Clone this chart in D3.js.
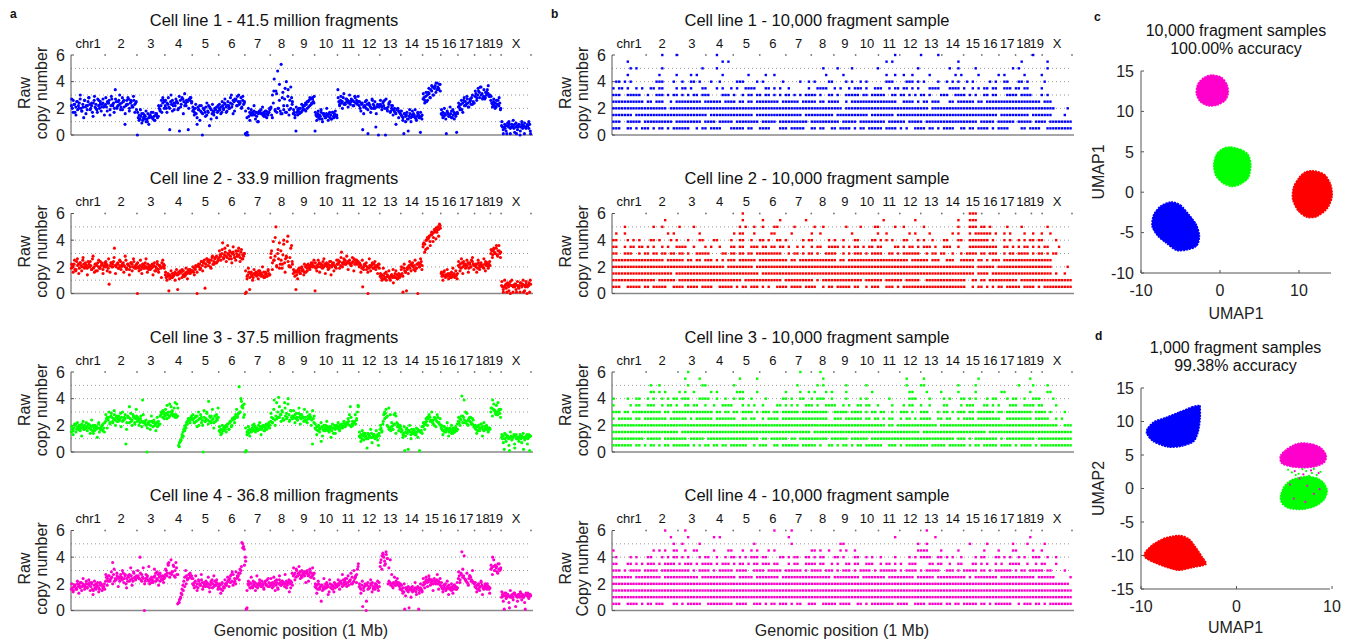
<!DOCTYPE html>
<html>
<head>
<meta charset="utf-8">
<script src="https://cdn.jsdelivr.net/npm/d3@7"></script>
<style>
body { margin: 0; background: #fff; }
svg { font-family: "Liberation Sans", Arial, Helvetica, sans-serif; }
</style>
</head>
<body>
<svg width="1357" height="642"></svg>
<script>
// mouse chromosomes (Mb)
var chromNames = ["chr1","2","3","4","5","6","7","8","9","10","11","12","13","14","15","16","17","18","19","X"];
var chromSizes = [195.5,182.1,160.0,156.5,151.8,149.7,145.4,129.4,124.6,130.7,122.1,120.1,120.4,124.9,104.0,98.2,95.3,90.7,61.4,171.0];

var lineColors = ["#0000ff", "#ff0000", "#00ff00", "#ff00cc"];
var fullTitles = ["Cell line 1 - 41.5 million fragments", "Cell line 2 - 33.9 million fragments",
                  "Cell line 3 - 37.5 million fragments", "Cell line 4 - 36.8 million fragments"];
var sampleTitles = ["Cell line 1 - 10,000 fragment sample", "Cell line 2 - 10,000 fragment sample",
                    "Cell line 3 - 10,000 fragment sample", "Cell line 4 - 10,000 fragment sample"];
var yTicks = [0, 2, 4, 6];
var gridLevels = [1, 2, 3, 4, 5];

// raw copy number per bin, one char per bin: "0"=0.0 ... "a"=1.0 ... "k"=2.0 ... "u"=3.0 ... "E"=4.0 ... "O"=5.0
// two interleaved bin sets per cell line, one string per chromosome
var valueCode = "0123456789abcdefghijklmnopqrstuvwxyzABCDEFGHIJKLMNOPQRSTUVWXYZ";
var fullLine1 = ["mkqnhlpjmorkindqlmjpsnkmhoqlnjrmkpinolm","nlpoqjmrnokyplmqnjospl8mqnrkopmlqnoj",
  "0dfcegbdfeacgdfehdcebfgdekimhoqp","mkonl4pnqmjorpok3qnsrpmoqp4rqsp","ijhkg8ljmih0kjhlfim7kjgihkjlhi",
  "kjlhmkonlipmkoungprqmtpnoslqnp","1020ehgfhgifheagihjgfhgeigfhj","kfuoGjxhMkqiRgwjrhEmyfqksp",
  "ghf3hjigkhilmjonkpqmrospt","3fegdfehcgfedgfegdfchegfed","ypnqopsnorpqopnrqmptoqnp",
  "mkon4lmpkn1omlkqnmk6ln0m","nmlomq0kjlnpikmjih8jkihg","fed1gefc3egdfegfdcehfd2ef",
  "rsqtpuwvsyxAuzBDyAzCx","gfhegf1hgfegidfhge2g","lmknjoqmpnrolpqsnpo","tvsuxwAuvstrwuyvtu",
  "qonpmolnqmok","7616571768166758617670685716677581"];
var fullLine1b = ["rhnfpkuilqgmsjoetkhqnlrf","sioftmhrkpuljqgnsiqlthp","hbj9gcia8fdhbgemjqsk",
  "qhskuiompjtlrgvmqkso","lfndjbmgkeohlcnfjdm","ngpjrhmkslqirmupkto","idkbjfmchaigleidhk",
  "ldxivkCgsmzhtjAn","jdlfkhnjmiplsnro","hbicjagdkbhchdif","smtkvnrlupqmsot","pioglqjnhrkpgml",
  "qjpkriohmfkgjdi","ibgahcjaiejbgdhc","vowqzsBuAwDyC","jdkcieldjcgh","ojqhsmtlrnuo","xqzsAryswBt",
  "tlrkqnsj","a4839a58b29483a7958a3"];
var fullLine2 = ["jlkmiholmjnlkpmknljomkliqjkmhlnkjolmikn","kmlj7lnkmoylkmnjlokmnlkpjmliknmkojlm",
  "0kjlikmjlnkjmilkjmklhkjmilkjnkml","ecdf2edcfdegfe3gfhgiedfegfhgigh","hgjik0lkmjolnp4mqopnkprmoqnsop",
  "rtsuCqtvsrutwsquvtrpuswtrvqtsu","01deg3fdecfegdfhegfedgcefdhfe","rwnDpsOkuqCmpjtEnqsDolrkAm",
  "fhg3egihfjhiegklhmjlkmnlk","2jlkmnkmlokmlnkmjlokmnlkjm","mnolvnmopmnonpmlnoqmnpom",
  "kmlj5kmlnk0jlklnjmkilkmj","dcebdfcaedcbdec8dfcebdce","if1jhg2ikljmlnklhjm0nkmol",
  "zCBxEGFHDIKJGMLNKOMQN","fdegdcedfedcgedfcdef","lkmjnkolmklnjmkpoml","lkmjnlkmlkjmolnkml",
  "uwtxvuytwAuv","6515671657066165716561857165706617"];
var fullLine2b = ["mgpiqfnhrjlekoisgmhpjnfl","ohqgnkrfmjpilgsimenhqkj","nhpfmjqgkilenhoglcpj",
  "gadbhcfaiebgchdjbifh","kelgmiohnkqlpjsmrnq","wpxryoAqvnzrwsyoxqu","hbjcgaiefbhdkcgdie",
  "uipGlxjwmBgrHkyo","idhbjfkhmgjlinkp","nhpgmjqflioemhkp","pjrkqmsinlrhpmo","ngpiligqhmjokfm",
  "fajbgdhaeichbfd","kdmgjfohlipjmkqi","BvEyGAIDKFMHP","gaheibfcjdhb","ohqfmjpgnkri","mgpinkqhljo",
  "xryuAswr","93a4829a5739486a2958a"];
var fullLine3 = ["fhgiklhjikgiljhkimjlikhjgeikhjilfhjkgim","npqoumrqnpsoqnprotqnoqp6mrqypnosqmpr",
  "npomrnDmnlk0mlnkrnmoklmjnlrstqus","rtzsqAustrxqsAr5789dfhjkmnpomqp","opmqnrokpsmo0qnpuoCnqropmrnsoq",
  "gfhegijhkjlhmnjpoqpswrtNuEyzqs","01fgehgfihgjhigkhjhikjgilkjmk","nqmpDorpuFqsnvpoBrtqEsovqp",
  "rqspqotqsprqnoqomrpsqo6pr","ihjgkhi8jhgikhjifhjgiekhji","jhkilkjmlkmlnsyjlkmnlpuy",
  "cbdacedbc3adcbebcdacbd5c","higlsutqkjhigjhkstrmlkij","fgde1fhe2gfdhfegedfhg1fge",
  "jkmlnqpsqonmlkponqmlk","ihgjfhgihfghegihfjgh","nmpoGrqomnlkpnqmlok","ihjgkhiljhgjikhgih",
  "uxDwvtsuBvtw","bac2adbca1bcabd3cababdacb2bacdab1c"];
var fullLine3b = ["jdlfmhkcnhigleokgjbmihlf","siqltmvkrnpjuoshqmtkrlw","qkpjsmoilhnjmgqkluvp",
  "wpuryvsBqx49bcgilpor","smrjupqkvntlrmwirpx","jdkgiflhnkpmrqtuCxA","idjcgklfihmdjgkhli",
  "tmwkBqysuoxpAnvr","vmtoxlsqwnuprkvm","ldjfmckgngjbliek","mgkinjlpkqnmsoz","f8g9eaebh7dcg9e",
  "kfnpwrxsmhlejgk","hbjcigkaehdibgfj","mhpkrnuoqjsmp","kdjfmcikeghl","qkrmDutoqlpj","kejglcmhjfi",
  "xrAvzswq","d7e8c5f9b6da8c7e9b6dc"];
var fullLine4 = ["ghfijhgkijhlikjgimhkjlikgfjhkilhgjkfhig","mpomqnopArmonqpomrpnsoqkomprnqomspnq",
  "pqoEnrpo0mopnmkolnmpqsonrpmqonlp","ruszApsrtyquAr5689dgjmpuqnorpqo","kjlmikhmkjnlikjmlikhjlnkimjlki",
  "hjgkfihkjlmnoqrtjlmkopqnsuPLMy","E12kjlhkimjlikhjlkimjhlkjnilk","kjlikmjlhknljmklikmjlnkhlj",
  "qrspuqsrtqpsrqtsuqrtpsqrs","ihjgkhi7jhgikhjiekhjgilhji","kjlmkinlmkoljmnkplmoqlvz",
  "ihgj3hik0jgihkjlhigkjhfi","xCFHEBzGDkmljkilkjmlkjik","gfhe1hgfi2ghfegfhegi1fhge",
  "jlkmnlmonlkmkomlnkmlj","ihgjhkgihjghfigjhigh","oqnsIpqonmlkoqpnmlk","ihjgkhiljhgijhkigh",
  "vwExuywtzvuw","acb1bdacb2abcadc3bacbadbcab1cbdacb"];
var fullLine4b = ["kejgmdlfoikhnflcmgjeljhk","rjqmtkvnsipoulrhqmwjtop","uosmwkrqxnplvmtjsnqo",
  "vqysCtxpwr6acfikorsq","ohqfnjrglikpemhqjng","kdlhnjpilmrotqsvxOK","Bfmhphlfqjnikgmjoi",
  "ohpfngqjmkrhlems","wnvqxourtlsmvpwo","kdmgjfohlcnhjeki","nglrjoiqmskuprx","kdmfj7lhnegkiml",
  "AvGyIDwCrhpjolg","jdkbhegaiflchdkf","ohpiqjnfmkrgo","lejfmchkdjgl","tlrvFnsjqmul","lejfmchkgid",
  "yrCuxszv","e7d9c6fa8db7ce8a6db9c"];
var fullProfiles = [[fullLine1, fullLine1b], [fullLine2, fullLine2b], [fullLine3, fullLine3b], [fullLine4, fullLine4b]];

// 10,000 fragment samples: copy number comes in steps of 0.5.
// Each row is one level; each hex digit is one of 40 genome windows, its 4 bits = which quarter-windows hold a point.
var sampleLevels = [6.0, 5.5, 5.0, 4.5, 4.0, 3.5, 3.0, 2.5, 2.0, 1.5, 1.0, 0.5];
var sampleLine1 = [
  "0000420008 0000000000 0000201040 0000002000",
  "0400000002 8000000000 0001400000 8000020100",
  "0280400108 0000000042 1008002004 8200140100",
  "0400821402 0104800020 8001248201 4102810400",
  "6a01c49a24 1c28104a18 5281c3a84a 9414c68200",
  "b4a6c2d18a 53c6a409e5 2e9cb6a3c7 a56ced8400",
  "e7c9d6adc3 a5b6ad5e9a 7dbe6d5a39 ea6c7bc500",
  "ffedcbfefd edbfdfbede 5fffe7adc6 fdbffffb80",
  "ffffefffff ffffffffff 7ffffffdff ffffffffc2",
  "feffffffbf ffbfffdffb ffbfdfffff fffdffbf84",
  "e7dffbfef7 dfefbff7fe fbfefdf7ff fefbf7deff",
  "e6bad7e5bc 7d9e3be6cd eb7dea7b5e 6debc379ff"];
var sampleLine2 = [
  "0000000000 0400000000 0000000000 0e00000000",
  "0000200000 0408201000 0002004000 8e00000000",
  "0802410800 0a48c10240 4218240800 8ed0420100",
  "4800140200 2c41820480 1009014202 8bf4a12480",
  "c5468a2318 4c9a682c14 8c35462918 cfe8a56c20",
  "cb6a53c8a4 6cedb4a59e ad6c35ae9c 8ffcd5ab10",
  "ce5b6da7c3 6dbfe5ad3c aebcd7e5b2 5edcb7ad60",
  "ffffdfb6ea efdffb7ffd bffffefdce 7daeffff80",
  "fffffffffe ffbfffffff ffffffffff fdfbffff82",
  "fffffbffff ffefffffff ffffffffff fdefffffa4",
  "fffefdffff fbffeffd7f fefdfbe7ff e6dffbffff",
  "e7dbe7bde7 d6ea7bde5b ecb9d7ffff e5ab7debff"];
var sampleLine3 = [
  "0000002000 0000004080 0000000000 0000000000",
  "0000004200 0820000040 0000020800 0100004000",
  "0004802180 2000008140 4080021800 8200042100",
  "0006a14828 1c20084a28 4020018420 8201804180",
  "84ca56e3c9 2c841a65c8 428081c214 6a2c593840",
  "82ce5a6c93 c5486a9d3c a6c8459218 5c6a39ec20",
  "edffb7ffed b7aedfbfe7 deb64e9c5a edfb7fde84",
  "bedfefd7ef e6cbdfffe7 7edacb5e6c bdfe7fdf28",
  "ffffffffff ffffffffff fffedfffbf ffffffffe7",
  "fffffeffff fffffffbff ffffffefff ffdfffffff",
  "ffefbfdf7f ffedfb7fef dfbffffffe ebfd7fefff",
  "fed6b7eadb 7e5cdfbe9a d6fcebfdf7 eb7debd7ff"];
var sampleLine4 = [
  "0000204000 0000820000 0000000400 0000000000",
  "0000082014 0000040000 0000200080 0000004000",
  "0000048200 0040020001 8000002400 0820108200",
  "8002a64c10 c4a2800691 4800003c20 8042182400",
  "428c56a2c9 6aec359ac6 8ca4215e6a 42c6a53920",
  "c6aebd75eb ad6ec59eca 6ce5a9c364 c6a53c9620",
  "ebdf7febd7 de7befd7ba ebd7ebd7ce bed7eb7d84",
  "feffbffdff efbfdffff7 fdfeffbf7f ebfdffefc1",
  "ffffffffff ffffffffff ffffffffff fffffffffe",
  "ffffffffff ffffffffff ffffffffff ffffffffff",
  "ffffffffff ffffffffff ffffffffff ffffffffff",
  "e7adc6be7f de75bace7d e6bfde7bed bed7e5daff"];
var sampleRows = [sampleLine1, sampleLine2, sampleLine3, sampleLine4];

// UMAP cluster outlines [x, y]
var umapTenK = [
  [[-1.0,14.5],[0.2,14.2],[0.9,13.3],[1.05,12.3],[0.7,11.4],[-0.3,10.8],[-1.5,10.7],[-2.5,11.2],[-3.0,12.2],[-2.8,13.4],[-2.0,14.2]],
  [[1.2,5.6],[2.6,5.3],[3.6,4.6],[3.9,3.3],[3.6,1.8],[2.6,1.0],[1.5,0.7],[0.4,1.1],[-0.5,2.0],[-0.8,3.3],[-0.5,4.6],[0.2,5.3]],
  [[11.8,2.65],[13.2,2.2],[14.0,1.0],[14.2,-0.5],[13.6,-2.0],[12.3,-3.0],[11.0,-3.1],[9.9,-2.3],[9.2,-0.9],[9.3,0.6],[10.0,1.8],[10.8,2.5]],
  [[-6.2,-1.2],[-5.0,-1.6],[-3.9,-2.8],[-3.0,-4.0],[-2.6,-5.4],[-2.9,-6.6],[-4.0,-7.1],[-5.5,-7.2],[-6.8,-6.3],[-7.9,-5.4],[-8.6,-4.2],[-8.4,-2.8],[-7.5,-1.7]]];
var umapTenKColors = ["#ff00cc", "#00ff00", "#ff0000", "#0000ff"];

var umapOneK = [
  [[-3.9,12.4],[-4.6,12.2],[-6.0,11.4],[-7.4,10.6],[-8.6,10.0],[-9.3,9.0],[-9.4,8.2],[-8.7,7.0],[-7.2,6.2],[-5.8,6.3],[-4.5,7.0],[-4.0,8.5],[-3.8,10.5],[-3.8,12.2]],
  [[-6.0,-7.0],[-7.5,-7.4],[-8.8,-8.4],[-9.6,-9.6],[-9.5,-10.4],[-8.2,-11.3],[-6.8,-12.0],[-5.9,-12.2],[-4.6,-11.8],[-3.2,-11.3],[-3.6,-10.2],[-4.3,-8.7],[-5.0,-7.5]],
  [[7.2,1.8],[8.3,1.6],[9.1,0.9],[9.5,-0.3],[9.2,-1.6],[8.3,-2.6],[7.0,-3.1],[5.6,-3.0],[4.8,-2.3],[4.6,-1.2],[5.0,0.3],[5.8,1.3]],
  [[6.8,6.8],[8.0,6.6],[8.9,6.0],[9.4,4.9],[9.2,3.9],[8.3,3.3],[7.0,3.1],[5.6,3.3],[4.7,3.8],[4.6,4.9],[5.2,5.8],[6.0,6.5]]];
var umapOneKColors = ["#0000ff", "#ff0000", "#00ff00", "#ff00cc"];
var strayGreen = [[5.8,2.4],[6.5,2.2],[7.3,2.6],[7.9,2.3],[8.4,2.0],[6.9,2.9],[7.6,1.9],[8.8,2.5],[6.2,2.0],[5.4,2.8],[8.1,2.9]];
var strayPink = [[6.1,2.6],[7.0,2.1],[7.8,2.7],[8.6,2.3],[6.6,1.5],[7.4,0.4],[8.1,-0.8],[6.0,-1.5],[7.2,-2.0],[5.6,0.6],[8.7,-0.1]];

var svg = d3.select("svg");
var starts = [0];
chromSizes.forEach(function (s, i) { starts.push(starts[i] + s); });
var total = starts[starts.length - 1];
var rowTop = [0, 158.5, 317, 475.5];
var axisColor = "#555";

function drawGenomeAxes(x0, x1, top, title, titleX, ylabel2) {
    var x = d3.scaleLinear().domain([0, total]).range([x0, x1]);
    var y = d3.scaleLinear().domain([0, 6]).range([top + 135, top + 55]);
    var g = svg.append("g");

    gridLevels.forEach(function (v) {
        g.append("line")
            .attr("x1", x0).attr("x2", x1).attr("y1", y(v)).attr("y2", y(v))
            .attr("stroke", "#999").attr("stroke-width", 1).attr("stroke-dasharray", "1,3");
    });
    starts.slice(1).forEach(function (s) {
        g.append("circle").attr("cx", x(s)).attr("cy", y(6)).attr("r", 0.9).attr("fill", "#777");
    });

    g.append("line").attr("x1", x0).attr("x2", x1 + 2).attr("y1", y(0)).attr("y2", y(0))
        .attr("stroke", "#888").attr("stroke-width", 1.6);
    g.append("line").attr("x1", x0).attr("x2", x0).attr("y1", y(0)).attr("y2", y(6))
        .attr("stroke", axisColor).attr("stroke-width", 1);
    yTicks.forEach(function (t) {
        g.append("line").attr("x1", x0).attr("x2", x0 + 3).attr("y1", y(t)).attr("y2", y(t))
            .attr("stroke", axisColor);
        g.append("text").attr("x", x0 - 6).attr("y", y(t)).attr("dy", "0.36em")
            .attr("text-anchor", "end").attr("font-size", "16px").attr("fill", "#222").text(t);
    });

    chromNames.forEach(function (name, i) {
        g.append("text").attr("x", x(starts[i] + chromSizes[i] / 2)).attr("y", top + 43).attr("dy", "0.35em")
            .attr("text-anchor", "middle").attr("font-size", "13px").attr("fill", "#111").text(name);
    });

    g.append("text").attr("x", titleX).attr("y", top + 20).attr("dy", "0.35em")
        .attr("text-anchor", "middle").attr("font-size", "16.5px").attr("fill", "#111").text(title);

    var cy = top + 93;
    g.append("text").attr("transform", "translate(" + (x0 - 47) + "," + cy + ") rotate(-90)")
        .attr("text-anchor", "middle").attr("dy", "0.35em").attr("font-size", "16px").attr("fill", "#222").text("Raw");
    g.append("text").attr("transform", "translate(" + (x0 - 30) + "," + cy + ") rotate(-90)")
        .attr("text-anchor", "middle").attr("dy", "0.35em").attr("font-size", "16px").attr("fill", "#222").text(ylabel2);

    return { g: g, x: x, y: y };
}

// panel a: all fragments
fullProfiles.forEach(function (sets, li) {
    var ax = drawGenomeAxes(71, 531, rowTop[li], fullTitles[li], 274, "copy number");
    var pts = [];
    sets.forEach(function (profile) {
        profile.forEach(function (s, c) {
            for (var i = 0; i < s.length; i++) {
                pts.push({ pos: starts[c] + (i + 0.5) / s.length * chromSizes[c], v: valueCode.indexOf(s[i]) / 10 });
            }
        });
    });
    ax.g.selectAll("circle.pt").data(pts).enter().append("circle")
        .attr("class", "pt")
        .attr("cx", function (d) { return ax.x(d.pos); })
        .attr("cy", function (d) { return ax.y(d.v); })
        .attr("r", 1.55)
        .attr("fill", lineColors[li]);
});

// panel b: 10,000 fragment samples
sampleRows.forEach(function (rows, li) {
    var ax = drawGenomeAxes(612, 1072, rowTop[li], sampleTitles[li], 817, li == 3 ? "Copy number" : "copy number");
    var pts = [];
    rows.forEach(function (row, r) {
        var s = row.replace(/ /g, "");
        var w = total / s.length;
        for (var i = 0; i < s.length; i++) {
            var bits = parseInt(s[i], 16);
            for (var k = 0; k < 4; k++) {
                if (bits & (8 >> k)) pts.push({ pos: i * w + (k + 0.5) * w / 4, v: sampleLevels[r] });
            }
        }
    });
    ax.g.selectAll("rect.pt").data(pts).enter().append("rect")
        .attr("class", "pt")
        .attr("x", function (d) { return ax.x(d.pos) - 1.2; })
        .attr("y", function (d) { return ax.y(d.v) - 1.2; })
        .attr("width", 2.4).attr("height", 2.4)
        .attr("fill", lineColors[li]);
});

svg.append("text").attr("x", 301).attr("y", 630).attr("dy", "0.35em").attr("text-anchor", "middle")
    .attr("font-size", "16px").attr("fill", "#222").text("Genomic position (1 Mb)");
svg.append("text").attr("x", 842).attr("y", 630).attr("dy", "0.35em").attr("text-anchor", "middle")
    .attr("font-size", "16px").attr("fill", "#222").text("Genomic position (1 Mb)");

// UMAP panels
function drawUmap(opt) {
    var x = d3.scaleLinear().domain(opt.xDomain).range(opt.xRange);
    var y = d3.scaleLinear().domain(opt.yDomain).range(opt.yRange);
    var g = svg.append("g");
    var left = x(opt.xDomain[0]);

    g.append("line").attr("x1", left).attr("x2", opt.xAxisEnd)
        .attr("y1", y(opt.yDomain[0])).attr("y2", y(opt.yDomain[0])).attr("stroke", axisColor);
    g.append("line").attr("x1", left).attr("x2", left)
        .attr("y1", y(opt.yDomain[0])).attr("y2", y(opt.yDomain[1])).attr("stroke", axisColor);

    opt.yTicks.forEach(function (t) {
        g.append("line").attr("x1", left).attr("x2", left + 3)
            .attr("y1", y(t)).attr("y2", y(t)).attr("stroke", axisColor);
        g.append("text").attr("x", left - 7).attr("y", y(t)).attr("dy", "0.36em")
            .attr("text-anchor", "end").attr("font-size", "16px").attr("fill", "#222").text(t);
    });
    opt.xTicks.forEach(function (t) {
        g.append("line").attr("x1", x(t)).attr("x2", x(t))
            .attr("y1", y(opt.yDomain[0])).attr("y2", y(opt.yDomain[0]) - 3).attr("stroke", axisColor);
        g.append("text").attr("x", x(t)).attr("y", y(opt.yDomain[0]) + 17).attr("dy", "0.36em")
            .attr("text-anchor", "middle").attr("font-size", "16px").attr("fill", "#222").text(t);
    });

    var line = d3.line().x(function (d) { return x(d[0]); }).y(function (d) { return y(d[1]); })
        .curve(d3.curveCardinalClosed.tension(0.2));
    opt.clusters.forEach(function (c, i) {
        g.append("path").attr("d", line(c)).attr("fill", opt.colors[i])
            .attr("stroke", opt.colors[i]).attr("stroke-width", 1.5).attr("stroke-dasharray", "2,1");
    });
    (opt.strays || []).forEach(function (s) {
        g.selectAll(null).data(s.pts).enter().append("circle")
            .attr("cx", function (d) { return x(d[0]); }).attr("cy", function (d) { return y(d[1]); })
            .attr("r", 1.1).attr("fill", s.color);
    });

    var cx = (left + opt.xAxisEnd) / 2;
    g.append("text").attr("x", cx).attr("y", opt.titleY).attr("dy", "0.35em").attr("text-anchor", "middle")
        .attr("font-size", "16px").attr("fill", "#111").text(opt.title1);
    g.append("text").attr("x", cx).attr("y", opt.titleY + 18).attr("dy", "0.35em").attr("text-anchor", "middle")
        .attr("font-size", "16px").attr("fill", "#111").text(opt.title2);
    g.append("text").attr("x", cx).attr("y", opt.xLabelY).attr("dy", "0.35em").attr("text-anchor", "middle")
        .attr("font-size", "16px").attr("fill", "#222").text(opt.xLabel);
    var cy = (opt.yRange[0] + opt.yRange[1]) / 2;
    g.append("text").attr("transform", "translate(1098," + cy + ") rotate(-90)").attr("dy", "0.35em")
        .attr("text-anchor", "middle").attr("font-size", "16px").attr("fill", "#222").text(opt.yLabel);
}

drawUmap({
    xDomain: [-10, 10], xRange: [1141, 1299], xAxisEnd: 1331,
    yDomain: [-10, 15], yRange: [273, 71],
    xTicks: [-10, 0, 10], yTicks: [-10, -5, 0, 5, 10, 15],
    clusters: umapTenK, colors: umapTenKColors,
    title1: "10,000 fragment samples", title2: "100.00% accuracy", titleY: 30,
    xLabel: "UMAP1", xLabelY: 313, yLabel: "UMAP1"
});
drawUmap({
    xDomain: [-10, 10], xRange: [1141, 1332], xAxisEnd: 1330,
    yDomain: [-15, 15], yRange: [589, 388],
    xTicks: [-10, 0, 10], yTicks: [-15, -10, -5, 0, 5, 10, 15],
    clusters: umapOneK, colors: umapOneKColors,
    strays: [{ pts: strayGreen, color: "#00ff00" }, { pts: strayPink, color: "#ff00cc" }],
    title1: "1,000 fragment samples", title2: "99.38% accuracy", titleY: 347,
    xLabel: "UMAP1", xLabelY: 627, yLabel: "UMAP2"
});

// panel letters
[["a", 10, 14], ["b", 551, 14], ["c", 1094, 17], ["d", 1095, 336]].forEach(function (p) {
    svg.append("text").attr("x", p[1]).attr("y", p[2]).attr("dy", "0.35em")
        .attr("font-size", "12px").attr("font-weight", "bold").attr("fill", "#111").text(p[0]);
});
</script>
</body>
</html>
